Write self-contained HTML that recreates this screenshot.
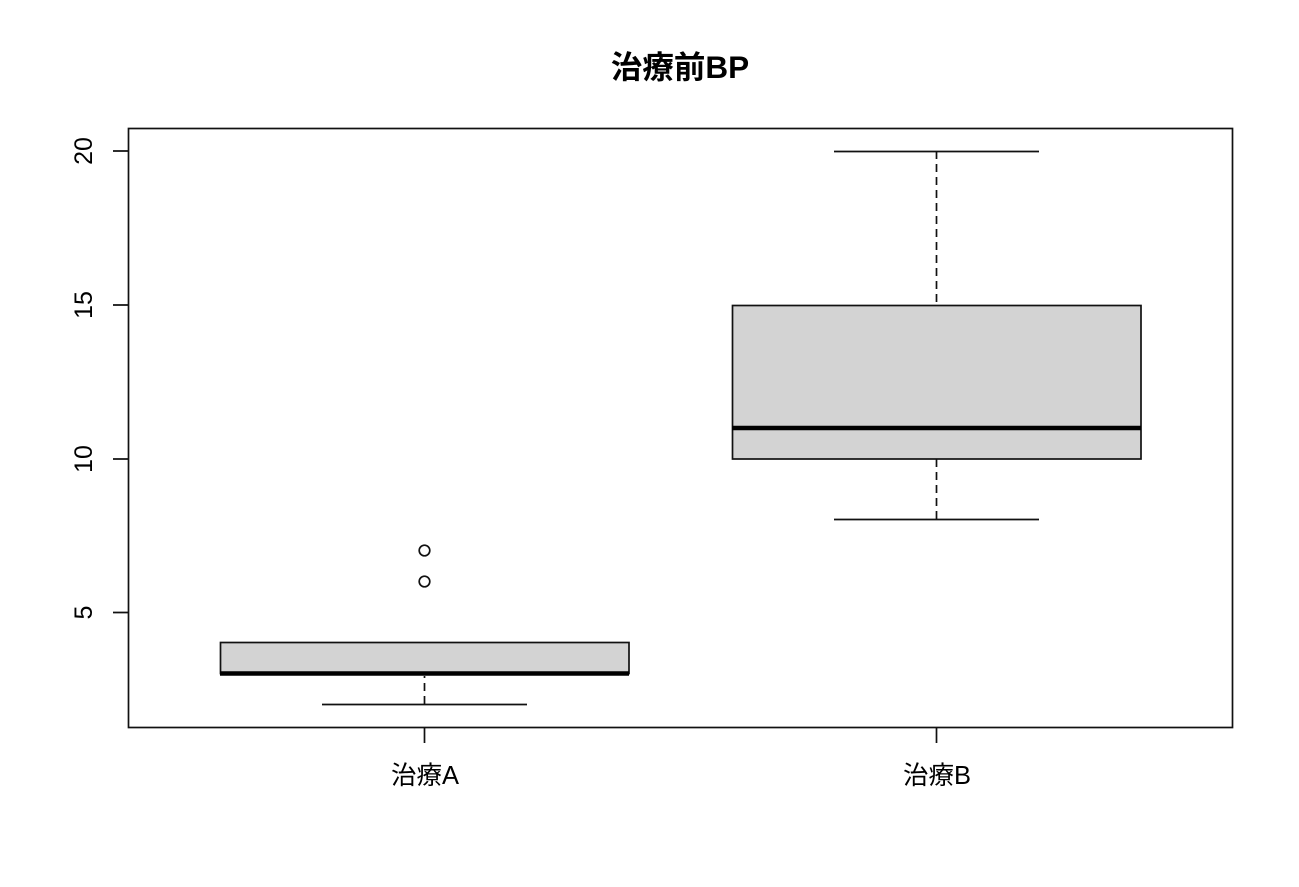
<!DOCTYPE html>
<html>
<head>
<meta charset="utf-8">
<style>
html,body{margin:0;padding:0;background:#fff;width:1299px;height:887px;overflow:hidden}
svg{display:block}
text{fill:#000;font-family:"Liberation Sans","Noto Sans CJK JP",sans-serif}
</style>
</head>
<body>
<svg width="1299" height="887" viewBox="0 0 1299 887" xmlns="http://www.w3.org/2000/svg">
<rect width="1299" height="887" fill="#fff"/>
<text x="680" y="78" font-size="31.5" font-weight="bold" text-anchor="middle">治療前BP</text>
<rect x="128.5" y="128.5" width="1104" height="599" fill="none" stroke="#111" stroke-width="1.7"/>
<g stroke="#111" stroke-width="1.7" fill="none">
<path d="M113 151H128M113 305H128M113 459H128M113 612.5H128"/>
<path d="M424.5 728V743M936.5 728V743"/>
<path d="M322 704.5H527"/>
<path d="M424.5 704V676" stroke-dasharray="8 5"/>
<rect x="220.5" y="642.5" width="408.5" height="31" fill="#d3d3d3"/>
<path d="M834 151.5H1039M834 519.5H1039"/>
<path d="M936.5 151V305M936.5 459V519" stroke-dasharray="8 5"/>
<rect x="732.5" y="305.5" width="408.5" height="153.5" fill="#d3d3d3"/>
<circle cx="424.5" cy="550.5" r="5.3"/>
<circle cx="424.5" cy="581.5" r="5.3"/>
</g>
<path d="M220 673.5H629M732 428H1141" stroke="#000" stroke-width="4.5" fill="none"/>
<g font-size="25.5">
<text x="425" y="784" text-anchor="middle">治療A</text>
<text x="937" y="784" text-anchor="middle">治療B</text>
</g>
<g font-size="25">
<text transform="translate(92 151) rotate(-90)" text-anchor="middle">20</text>
<text transform="translate(92 305) rotate(-90)" text-anchor="middle">15</text>
<text transform="translate(92 459) rotate(-90)" text-anchor="middle">10</text>
<text transform="translate(92 612.5) rotate(-90)" text-anchor="middle">5</text>
</g>
</svg>
</body>
</html>
